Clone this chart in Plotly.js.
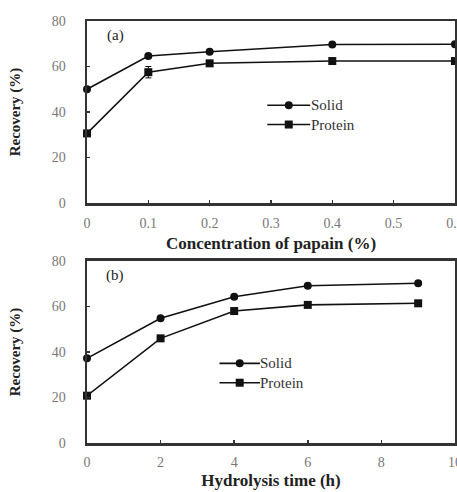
<!DOCTYPE html>
<html><head><meta charset="utf-8">
<script src="https://cdn.plot.ly/plotly-3.0.1.min.js"></script>
<style>body{margin:0;background:#fff}#c{width:457px;height:492px}</style>
</head><body><div id="c"></div>
<script>
// Panel (a): concentration of papain (%)
var papainConc = [0, 0.1, 0.2, 0.4, 0.6];
var solidA = [50, 64.6, 66.5, 69.7, 69.8];
var proteinA = [30.6, 57.5, 61.4, 62.4, 62.4];
var proteinAErr = [0, 2.5, 1.2, 0, 0];
// Panel (b): hydrolysis time (h)
var hydTime = [0, 2, 4, 6, 9];
var solidB = [37.2, 54.8, 64.3, 69.1, 70.2];
var proteinB = [20.8, 46, 58, 60.7, 61.4];
var xTicksA = [0, 0.1, 0.2, 0.3, 0.4, 0.5, 0.6];
var xTickTextA = ['0', '0.1', '0.2', '0.3', '0.4', '0.5', '0.6'];
var xTicksB = [0, 2, 4, 6, 8, 10];
var yTicks = [0, 20, 40, 60, 80];
var seriesNames = ['Solid', 'Protein'];

var F = 'Liberation Serif, Times New Roman, serif';
var lineStyle = {color: '#111', width: 1.6};
function tr(x, y, name, sym, xa, ya, err) {
  var t = {x: x, y: y, name: name, type: 'scatter', mode: 'lines+markers',
    line: lineStyle, marker: {symbol: sym, size: 8, color: '#111'},
    xaxis: xa, yaxis: ya, showlegend: false, cliponaxis: false};
  if (err) t.error_y = {type: 'data', array: err, color: '#111', thickness: 1, width: 3};
  return t;
}
var data = [
  tr(papainConc, solidA, seriesNames[0], 'circle', 'x', 'y'),
  tr(papainConc, proteinA, seriesNames[1], 'square', 'x', 'y', proteinAErr),
  tr(hydTime, solidB, seriesNames[0], 'circle', 'x2', 'y2'),
  tr(hydTime, proteinB, seriesNames[1], 'square', 'x2', 'y2')
];
function ax(extra) {
  var a = {showgrid: false, zeroline: false, showline: true, mirror: true,
    linecolor: '#333', linewidth: 2.5, ticks: 'inside', ticklen: 3, tickwidth: 1.5,
    tickcolor: '#333', tickfont: {family: F, size: 14, color: '#777'},
    ticklabeloverflow: 'allow'};
  for (var k in extra) a[k] = extra[k];
  return a;
}
var titleFontX = {family: F, size: 17, color: '#222'};
var titleFontY = {family: F, size: 15, color: '#222'};
var layout = {
  width: 457, height: 492,
  margin: {l: 87, r: 2, t: 21, b: 49},
  paper_bgcolor: '#fff', plot_bgcolor: '#fff',
  showlegend: false,
  xaxis: ax({range: [0, 0.6001], tickvals: xTicksA, ticktext: xTickTextA, anchor: 'y', ticklabelstandoff: 6,
    title: {text: '<b>Concentration of papain (%)</b>', font: titleFontX, standoff: 7}}),
  yaxis: ax({range: [0, 80], tickvals: yTicks, domain: [0.5687, 1], anchor: 'x', ticklabelstandoff: 16,
    title: {text: '<b>Recovery (%)</b>', font: titleFontY, standoff: 28}}),
  xaxis2: ax({range: [0, 10.001], tickvals: xTicksB, anchor: 'y2', ticklabelstandoff: 5,
    title: {text: '<b>Hydrolysis time (h)</b>', font: titleFontX, standoff: 5}}),
  yaxis2: ax({range: [0, 80], tickvals: yTicks, domain: [0, 0.4313], anchor: 'x2', ticklabelstandoff: 16,
    title: {text: '<b>Recovery (%)</b>', font: titleFontY, standoff: 28}}),
  annotations: [
    {xref: 'x', yref: 'y', x: 0.046, y: 73.5, text: '(a)', showarrow: false, font: {family: F, size: 15, color: '#222'}},
    {xref: 'x2', yref: 'y2', x: 0.77, y: 73.5, text: '(b)', showarrow: false, font: {family: F, size: 15, color: '#222'}}
  ],
  shapes: []
};
// Inline legends
function legend(xa, ya, x0, x1, xm, xt, yS, yP) {
  [[yS, 'circle', seriesNames[0]], [yP, 'square', seriesNames[1]]].forEach(function (r) {
    layout.shapes.push({type: 'line', xref: xa, yref: ya, x0: x0, x1: x1, y0: r[0], y1: r[0], line: {color: '#111', width: 1.6}});
    data.push({x: [xm], y: [r[0]], xaxis: xa, yaxis: ya, mode: 'markers', marker: {symbol: r[1], size: 8, color: '#111'}, showlegend: false, hoverinfo: 'skip'});
    layout.annotations.push({xref: xa, yref: ya, x: xt, y: r[0], xanchor: 'left', text: r[2], showarrow: false, font: {family: F, size: 15, color: '#333'}});
  });
}
legend('x', 'y', 0.294, 0.364, 0.329, 0.362, 43, 34.5);
legend('x2', 'y2', 3.6, 4.7, 4.15, 4.66, 35, 26.5);
Plotly.newPlot('c', data, layout, {displayModeBar: false, staticPlot: true});
</script></body></html>
